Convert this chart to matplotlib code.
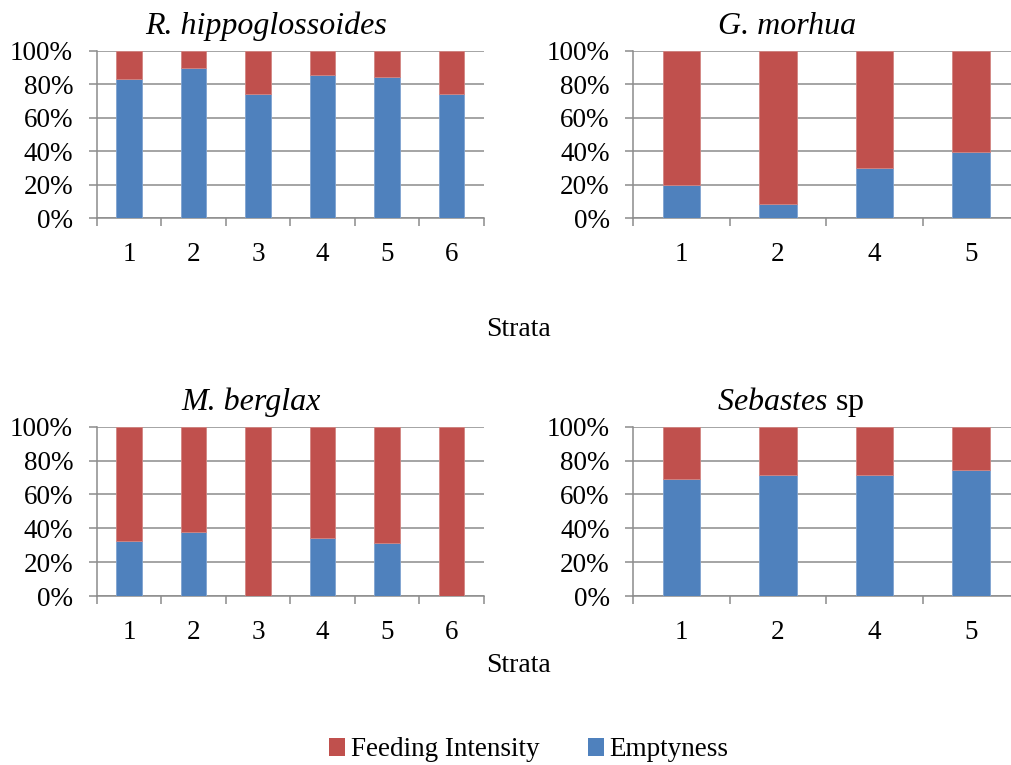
import matplotlib
matplotlib.use("Agg")
import matplotlib.pyplot as plt
from matplotlib.patches import Patch
from matplotlib.ticker import FixedLocator, PercentFormatter

plt.rcParams["font.family"] = ["Liberation Serif", "DejaVu Serif"]
plt.rcParams["mathtext.fontset"] = "custom"
plt.rcParams["mathtext.it"] = "Liberation Serif:italic"
plt.rcParams["mathtext.rm"] = "Liberation Serif"

# Data (percent of stomachs)
rh_strata = ["1", "2", "3", "4", "5", "6"]
rh_empty = [83, 89.5, 74, 85.5, 84.5, 74]
rh_feeding = [17, 10.5, 26, 14.5, 15.5, 26]

gm_strata = ["1", "2", "4", "5"]
gm_empty = [20, 8.7, 30, 39.6]
gm_feeding = [80, 91.3, 70, 60.4]

mb_strata = ["1", "2", "3", "4", "5", "6"]
mb_empty = [32.3, 37.8, 0, 34.1, 31.1, 0]
mb_feeding = [67.7, 62.2, 100, 65.9, 68.9, 100]

sb_strata = ["1", "2", "4", "5"]
sb_empty = [68.9, 71.7, 71.7, 74.6]
sb_feeding = [31.1, 28.3, 28.3, 25.4]

RED = "#C0504D"
BLUE = "#4F81BD"
GRID = "#8C8C8C"
FS = 19.5

fig = plt.figure(figsize=(10.11, 7.65), dpi=100)

# title, categories, series, axes rect, title x (axes fraction)
panels = [
    ("R. hippoglossoides", rh_strata, rh_empty, rh_feeding, [0.0956, 0.7147, 0.383, 0.219], 0.437),
    ("G. morhua", gm_strata, gm_empty, gm_feeding, [0.6264, 0.7147, 0.3815, 0.219], 0.398),
    ("M. berglax", mb_strata, mb_empty, mb_feeding, [0.0956, 0.2209, 0.383, 0.2213], 0.398),
    (r"$\mathit{Sebastes}$ sp", sb_strata, sb_empty, sb_feeding, [0.6264, 0.2209, 0.3815, 0.2213], 0.409),
]

for title, strata, empty, feeding, rect, tx in panels:
    ax = fig.add_axes(rect)
    x = range(len(strata))
    ax.bar(x, empty, width=0.39, color=BLUE, edgecolor="#7FA3D1", linewidth=0.6, zorder=3)
    ax.bar(x, feeding, bottom=empty, width=0.39, color=RED, edgecolor="#D38582",
           linewidth=0.6, zorder=3)
    ax.set_xlim(-0.5, len(strata) - 0.5)
    ax.set_ylim(0, 100)
    ax.set_yticks([0, 20, 40, 60, 80, 100])
    ax.yaxis.set_major_formatter(PercentFormatter(decimals=0))
    ax.set_xticks(list(x))
    ax.set_xticklabels(strata)
    ax.xaxis.set_minor_locator(FixedLocator([i - 0.5 for i in range(len(strata) + 1)]))
    ax.tick_params(axis="x", which="major", length=0, pad=17, labelsize=FS)
    ax.tick_params(axis="x", which="minor", length=6, width=1.1, color=GRID, direction="out")
    ax.tick_params(axis="y", length=6, width=1.1, color=GRID, pad=11, labelsize=FS)
    ax.grid(axis="y", color=GRID, linewidth=1.1, zorder=0)
    for s in ["top", "right"]:
        ax.spines[s].set_visible(False)
    for s in ["left", "bottom"]:
        ax.spines[s].set_color(GRID)
        ax.spines[s].set_linewidth(1.1)
    style = "normal" if title.startswith("$") else "italic"
    ax.set_title(title, fontsize=23, style=style, pad=12, x=tx)

fig.text(0.513, 1 - 330 / 765, "Strata", ha="center", va="center", fontsize=20)
fig.text(0.513, 1 - 665 / 765, "Strata", ha="center", va="center", fontsize=20)

handles = [Patch(facecolor=RED, label="Feeding Intensity"),
           Patch(facecolor=BLUE, label="Emptyness")]
fig.legend(handles=handles, loc="center", bbox_to_anchor=(0.523, 1 - 750 / 765), ncol=2,
           frameon=False, fontsize=19.5, handlelength=0.6, handleheight=0.6,
           handletextpad=0.2, columnspacing=1.8)

fig.savefig("out.png", dpi=100)
plt.close(fig)
